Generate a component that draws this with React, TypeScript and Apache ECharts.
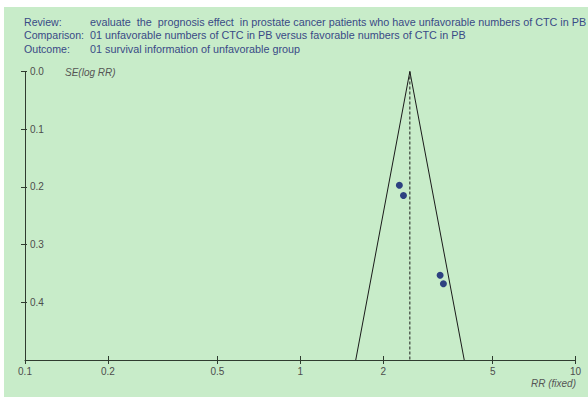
import React, { useEffect, useRef } from "react";
import * as echarts from "echarts";

const headerLabels = ["Review:", "Comparison:", "Outcome:"];
const headerTexts = [
  "evaluate  the  prognosis effect  in prostate cancer patients who have unfavorable numbers of CTC in PB",
  "01 unfavorable numbers of CTC in PB versus favorable numbers of CTC in PB",
  "01 survival information of unfavorable group",
];
const xTicks = [0.1, 0.2, 0.5, 1, 2, 5, 10];
const yTicks = [0, 0.1, 0.2, 0.3, 0.4];
const studyRR = [2.29, 2.37, 3.22, 3.31];
const studySE = [0.197, 0.215, 0.353, 0.368];
const pooledRR = 2.5;
const funnelRR = [1.59, 2.5, 3.94];
const funnelSE = [0.5, 0, 0.5];
const seMax = 0.5;

const L = (v: number) => Math.log10(v);

export default function App() {
  const ref = useRef<HTMLDivElement>(null);
  useEffect(() => {
    if (!ref.current) return;
    const chart = echarts.init(ref.current, null, { renderer: "svg" });
    const axisColor = "#2f3b2f";
    const labelColor = "#4d4d4d";
    const font = "'Liberation Sans', Arial, sans-serif";
    const xCustom = xTicks.map(L);
    const fmtX = (v: number) => {
      const r = Math.pow(10, v);
      return String(Math.round(r * 10) / 10);
    };
    const headerGraphics: any[] = [];
    headerLabels.forEach((t, i) => {
      headerGraphics.push({
        type: "text",
        x: 24,
        y: 22 + i * 13.3,
        style: { text: t, fill: "#394a86", font: `10.6px ${font}`, textVerticalAlign: "middle" },
      });
      headerGraphics.push({
        type: "text",
        x: 90,
        y: 22 + i * 13.3,
        style: { text: headerTexts[i], fill: "#394a86", font: `10.8px ${font}`, textVerticalAlign: "middle" },
      });
    });
    chart.setOption({
      animation: false,
      backgroundColor: "#ffffff",
      graphic: [
        { type: "rect", z: -10, shape: { x: 4, y: 7, width: 584, height: 390 }, style: { fill: "#c8ecc9" }, silent: true },
        ...headerGraphics,
        {
          type: "text",
          x: 65,
          y: 72,
          style: { text: "SE(log RR)", fill: "#555555", font: `italic 10px ${font}`, textVerticalAlign: "middle" },
        },
        {
          type: "text",
          x: 576,
          y: 383,
          style: { text: "RR (fixed)", fill: "#555555", font: `italic 10px ${font}`, textAlign: "right", textVerticalAlign: "middle" },
        },
      ],
      grid: { left: 25, right: 12.4, top: 71.5, bottom: 37, containLabel: false },
      xAxis: [
        {
          type: "value",
          min: -1,
          max: 1,
          position: "bottom",
          axisLine: { show: true, onZero: false, lineStyle: { color: axisColor, width: 1 } },
          axisTick: { show: true, inside: false, length: 4, customValues: xCustom, lineStyle: { color: axisColor } },
          axisLabel: {
            show: true,
            customValues: xCustom,
            formatter: fmtX,
            color: labelColor,
            fontSize: 10,
            fontFamily: font,
            margin: 6,
            showMinLabel: true,
            showMaxLabel: true,
          },
          splitLine: { show: false },
        },
        {
          type: "value",
          min: -1,
          max: 1,
          position: "bottom",
          offset: 0,
          axisLine: { show: false, onZero: false },
          axisTick: { show: true, inside: true, length: 4, customValues: xCustom, lineStyle: { color: axisColor } },
          axisLabel: { show: false },
          splitLine: { show: false },
        },
      ],
      yAxis: [
        {
          type: "value",
          min: 0,
          max: seMax,
          interval: 0.1,
          inverse: true,
          position: "left",
          axisLine: { show: true, onZero: false, lineStyle: { color: axisColor, width: 1 } },
          axisTick: { show: true, inside: false, length: 4, customValues: yTicks, lineStyle: { color: axisColor } },
          axisLabel: {
            show: true,
            inside: true,
            margin: 5,
            customValues: yTicks,
            formatter: (v: number) => v.toFixed(1),
            color: labelColor,
            fontSize: 10,
            fontFamily: font,
            showMinLabel: true,
          },
          splitLine: { show: false },
        },
        {
          type: "value",
          min: 0,
          max: seMax,
          interval: 0.1,
          inverse: true,
          position: "left",
          axisLine: { show: false, onZero: false },
          axisTick: { show: true, inside: true, length: 2, customValues: yTicks, lineStyle: { color: axisColor } },
          axisLabel: { show: false },
          splitLine: { show: false },
        },
      ],
      series: [
        {
          type: "line",
          data: funnelRR.map((r, i) => [L(r), funnelSE[i]]),
          symbol: "none",
          lineStyle: { color: "#1a1a1a", width: 1 },
          silent: true,
          z: 2,
        },
        {
          type: "line",
          data: [
            [L(pooledRR), 0],
            [L(pooledRR), seMax],
          ],
          symbol: "none",
          lineStyle: { color: "#1a1a1a", width: 1, type: [3, 2] },
          silent: true,
          z: 2,
        },
        {
          type: "scatter",
          data: studyRR.map((r, i) => [L(r), studySE[i]]),
          symbol: "circle",
          symbolSize: 7,
          itemStyle: { color: "#06166e" },
          z: 3,
        },
      ],
    });
    return () => chart.dispose();
  }, []);
  return (
    <div
      ref={ref}
      style={{ position: "fixed", left: 0, top: 0, width: 588, height: 397 }}
    />
  );
}
